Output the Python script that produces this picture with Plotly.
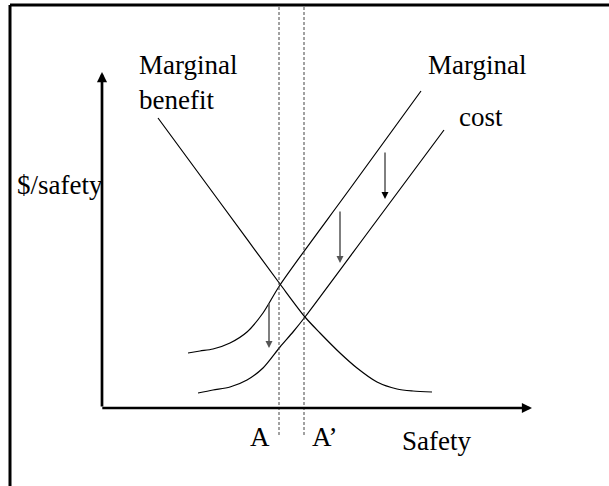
import plotly.graph_objects as go

# ---- data (diagram units: 1 unit = 10 px, origin at the axes' corner) ----
mb_x = [5.6, 11.7, 17.8, 20.3, 21.8, 23.8, 25.5, 27.5, 29.5, 31.1, 33.0]
mb_y = [29.0, 20.7, 12.4, 9.1, 7.5, 5.5, 4.0, 2.6, 1.9, 1.7, 1.6]

mc1_x = [8.6, 9.8, 11.1, 12.8, 14.5, 16.1, 17.8, 24.85, 31.9]
mc1_y = [5.5, 5.7, 5.9, 6.5, 7.6, 9.5, 12.3, 22.0, 31.7]

mc2_x = [9.6, 11.1, 12.8, 14.5, 16.1, 17.8, 19.1, 20.3, 27.25, 34.2]
mc2_y = [1.5, 1.8, 2.1, 2.8, 4.0, 6.1, 7.6, 9.1, 18.45, 27.8]

eq_x = [17.7, 20.2]          # A, A'
eq_labels = ["A", "A\u2019"]

shift_x = [28.3, 23.8, 16.7]       # downward shift arrows
shift_top = [25.7, 19.8, 10.6]
shift_bot = [20.9, 14.5, 6.0]
shift_col = ["#000000", "#555555", "#555555"]
shift_w = [1.0, 1.5, 1.5]

x_axis_end = 43.0
y_axis_end = 33.6

X0, X1 = -10.2, 50.7
Y0, Y1 = -7.8, 40.8

FONT = "Liberation Serif, Times New Roman, serif"

fig = go.Figure()

line_style = dict(color="#000000", width=1.2, shape="spline", smoothing=0.8)
for xs, ys, nm in [(mb_x, mb_y, "Marginal benefit"),
                   (mc1_x, mc1_y, "Marginal cost"),
                   (mc2_x, mc2_y, "Marginal cost (new)")]:
    fig.add_trace(go.Scatter(x=xs, y=ys, mode="lines", line=line_style,
                             name=nm, showlegend=False, hoverinfo="skip"))

# dashed verticals at A and A'
for xv in eq_x:
    fig.add_trace(go.Scatter(x=[xv, xv], y=[-2.7, 40.3], mode="lines",
                             line=dict(color="#444444", width=1, dash="3px,2px"),
                             showlegend=False, hoverinfo="skip"))

annotations = []
# axes with arrowheads
annotations.append(dict(x=0, y=y_axis_end, ax=0, ay=0, xref="x", yref="y",
                        axref="x", ayref="y", text="", showarrow=True,
                        arrowhead=2, arrowsize=0.75, arrowwidth=2.7,
                        arrowcolor="#000000", standoff=0, startstandoff=0))
annotations.append(dict(x=x_axis_end, y=0, ax=-0.12, ay=0, xref="x", yref="y",
                        axref="x", ayref="y", text="", showarrow=True,
                        arrowhead=2, arrowsize=0.75, arrowwidth=2.7,
                        arrowcolor="#000000", standoff=0, startstandoff=0))
# shift arrows
for xs, yt, yb, c, w in zip(shift_x, shift_top, shift_bot, shift_col, shift_w):
    annotations.append(dict(x=xs, y=yb, ax=xs, ay=yt, xref="x", yref="y",
                            axref="x", ayref="y", text="", showarrow=True,
                            arrowhead=2, arrowsize=1.4 / w, arrowwidth=w,
                            arrowcolor=c, standoff=0, startstandoff=0))

def label(txt, x, y):
    return dict(x=x, y=y, xref="x", yref="y", text=txt, showarrow=False,
                xanchor="left", yanchor="middle",
                font=dict(family=FONT, size=27, color="#000000"))

annotations += [
    label("Marginal", 3.5, 34.3),
    label("benefit", 3.5, 30.8),
    label("Marginal", 32.4, 34.3),
    label("cost", 35.5, 29.1),
    label("$/safety", -8.7, 22.3),
    label(eq_labels[0], 14.6, -2.9),
    label(eq_labels[1], 20.8, -2.9),
    label("Safety", 29.8, -3.3),
]

fig.update_layout(
    width=609, height=486,
    margin=dict(l=0, r=0, t=0, b=0),
    paper_bgcolor="#ffffff", plot_bgcolor="#ffffff",
    xaxis=dict(range=[X0, X1], visible=False, fixedrange=True),
    yaxis=dict(range=[Y0, Y1], visible=False, fixedrange=True),
    annotations=annotations,
    shapes=[
        # frame: top and left edges
        dict(type="line", xref="paper", yref="paper", x0=10 / 609, x1=1.01,
             y0=1 - 5 / 486, y1=1 - 5 / 486, line=dict(color="#000000", width=3)),
        dict(type="line", xref="paper", yref="paper", x0=10 / 609, x1=10 / 609,
             y0=1 - 5 / 486, y1=-0.01, line=dict(color="#000000", width=3)),
    ],
)

fig.write_html("out.html", config={"displayModeBar": False},
               post_script="document.body.style.margin='0';")
